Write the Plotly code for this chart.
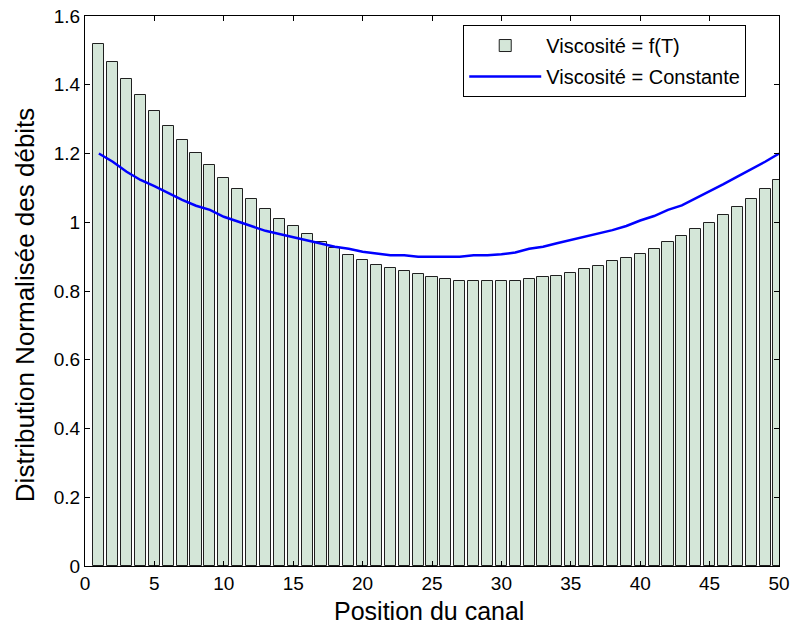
import plotly.graph_objects as go

positions = list(range(1, 51))
visc_fT = [1.519, 1.467, 1.416, 1.369, 1.324, 1.281, 1.239, 1.202, 1.166, 1.128,
           1.096, 1.067, 1.040, 1.010, 0.988, 0.965, 0.942, 0.924, 0.904, 0.890,
           0.877, 0.867, 0.857, 0.849, 0.840, 0.834, 0.830, 0.830, 0.830, 0.830,
           0.830, 0.834, 0.840, 0.844, 0.852, 0.863, 0.872, 0.886, 0.895, 0.909,
           0.923, 0.942, 0.960, 0.979, 0.997, 1.020, 1.043, 1.067, 1.096, 1.122]
visc_const = [1.200, 1.176, 1.147, 1.123, 1.105, 1.084, 1.065, 1.048, 1.036, 1.016,
              1.002, 0.989, 0.975, 0.966, 0.957, 0.948, 0.939, 0.929, 0.923, 0.914,
              0.909, 0.904, 0.904, 0.900, 0.900, 0.900, 0.900, 0.904, 0.904, 0.907,
              0.912, 0.923, 0.929, 0.939, 0.948, 0.958, 0.966, 0.977, 0.989, 1.005,
              1.018, 1.036, 1.049, 1.069, 1.089, 1.111, 1.133, 1.154, 1.176, 1.200]
y_ticks = [0, 0.2, 0.4, 0.6, 0.8, 1.0, 1.2, 1.4, 1.6]
y_tick_labels = ["0", "0.2", "0.4", "0.6", "0.8", "1", "1.2", "1.4", "1.6"]
x_ticks = [0, 5, 10, 15, 20, 25, 30, 35, 40, 45, 50]

fig = go.Figure()
fig.add_trace(go.Bar(
    x=positions, y=visc_fT, name="Viscosité = f(T)",
    width=0.8, legendgroup="a",
    marker=dict(color="#d4e6d8", line=dict(color="#202020", width=1)),
))
fig.add_trace(go.Scatter(
    x=positions, y=visc_const, name="Viscosité = Constante",
    mode="lines", legendgroup="b", line=dict(color="#0000ff", width=2.5),
))

font = "Liberation Sans, Arial, Helvetica, sans-serif"
fig.update_layout(
    width=791, height=626,
    margin=dict(l=85, r=12, t=16, b=60),
    paper_bgcolor="white", plot_bgcolor="white",
    font=dict(family=font, size=19, color="black"),
    showlegend=True,
    bargap=0,
    legend=dict(
        x=0.545, y=0.9836, xanchor="left", yanchor="top",
        bgcolor="white", bordercolor="black", borderwidth=1,
        font=dict(size=20), itemwidth=72,
        tracegroupgap=2,
    ),
    xaxis=dict(
        range=[0, 50], tickvals=x_ticks, ticks="inside", ticklen=5,
        tickcolor="black", showline=True, linecolor="black", linewidth=1,
        mirror="ticks", showgrid=False, zeroline=False, automargin=False,
        tickfont=dict(size=19),
    ),
    yaxis=dict(
        range=[0, 1.6], tickvals=y_ticks, ticktext=y_tick_labels,
        ticks="inside", ticklen=5, tickcolor="black",
        showline=True, linecolor="black", linewidth=1,
        mirror="ticks", showgrid=False, zeroline=False, automargin=False,
        tickfont=dict(size=19),
    ),
    annotations=[
        dict(text="Position du canal", xref="paper", yref="paper",
             x=0.4957, y=-0.0818, xanchor="center", yanchor="middle",
             showarrow=False, font=dict(size=25)),
        dict(text="Distribution Normalisée des débits", xref="paper", yref="paper",
             x=-0.0865, y=0.476, xanchor="center", yanchor="middle", textangle=-90,
             showarrow=False, font=dict(size=26)),
    ],
)

fig.write_html(
    "out.html",
    config={"displayModeBar": False},
    post_script="document.body.style.margin='0';document.body.style.overflow='hidden';",
)
